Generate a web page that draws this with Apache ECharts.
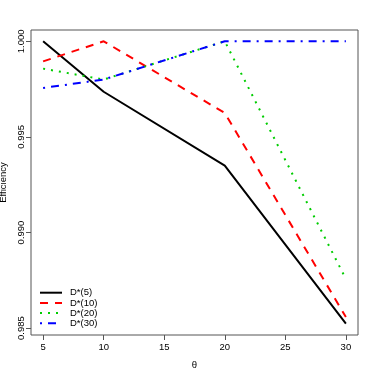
<!DOCTYPE html>
<html>
<head>
<meta charset="utf-8">
<script src="https://cdn.jsdelivr.net/npm/echarts@6/dist/echarts.min.js"></script>
<style>
  html, body { margin: 0; padding: 0; background: #fff; }
  #main { width: 374px; height: 374px; }
</style>
</head>
<body>
<div id="main"></div>
<script>
// theta values and efficiency for each design
var theta = [5, 10, 20, 30];
var d5 = [1.0, 0.99736, 0.9935, 0.98523];
var d10 = [0.99895, 1.0, 0.99625, 0.98558];
var d20 = [0.99857, 0.998, 1.0, 0.98757];
var d30 = [0.99756, 0.998, 1.0, 1.0];
var names = ['D*(5)', 'D*(10)', 'D*(20)', 'D*(30)'];
var xTicks = [5, 10, 15, 20, 25, 30];
var yTicks = [0.985, 0.990, 0.995, 1.000];

var chart = echarts.init(document.getElementById('main'));

function pairs(ys) {
    return theta.map(function (t, i) { return [t, ys[i]]; });
}

var font = 'Liberation Sans, Arial, sans-serif';
var fs = 9.5;
var styles = [
    { color: '#000000', type: 'solid' },
    { color: '#ff0000', type: [8, 7] },
    { color: '#00cd00', type: [2, 6] },
    { color: '#0000ff', type: [2, 6, 8, 6] }
];
var allData = [d5, d10, d20, d30];

var option = {
    animation: false,
    backgroundColor: '#fff',
    grid: {
        left: 31, top: 30, right: 16, bottom: 39,
        outerBoundsMode: 'none',
        show: true, borderColor: '#555', borderWidth: 1
    },
    legend: {
        orient: 'vertical',
        left: 39, top: 287.7, padding: 0,
        itemWidth: 22, itemHeight: 10, itemGap: 0.2,
        itemStyle: { opacity: 0 },
        textStyle: { fontFamily: font, fontSize: fs, color: '#000', lineHeight: 10, padding: [0, 0, 0, 3] },
        data: names
    },
    xAxis: {
        type: 'value', min: 4, max: 31,
        name: 'θ', nameLocation: 'middle', nameGap: 25,
        nameTextStyle: { fontFamily: font, fontSize: fs, color: '#000' },
        axisLine: { show: false },
        axisTick: { show: true, length: 5, lineStyle: { color: '#555' }, customValues: xTicks },
        axisLabel: { fontFamily: font, fontSize: fs, color: '#000', margin: 7, customValues: xTicks },
        splitLine: { show: false }
    },
    yAxis: {
        type: 'value', min: 0.98464, max: 1.00059,
        name: 'Efficiency', nameLocation: 'middle', nameGap: 23,
        nameTextStyle: { fontFamily: font, fontSize: fs, color: '#000' },
        axisLine: { show: false },
        axisTick: { show: true, length: 5, lineStyle: { color: '#555' }, customValues: yTicks },
        axisLabel: {
            fontFamily: font, fontSize: fs, color: '#000', rotate: 90, margin: 5,
            customValues: yTicks,
            formatter: function (v) { return v.toFixed(3); }
        },
        splitLine: { show: false }
    },
    series: allData.map(function (ys, i) {
        return {
            name: names[i],
            type: 'line',
            data: pairs(ys),
            symbol: 'none',
            color: styles[i].color,
            lineStyle: { width: 2, color: styles[i].color, type: styles[i].type }
        };
    })
};

chart.setOption(option);
</script>
</body>
</html>
